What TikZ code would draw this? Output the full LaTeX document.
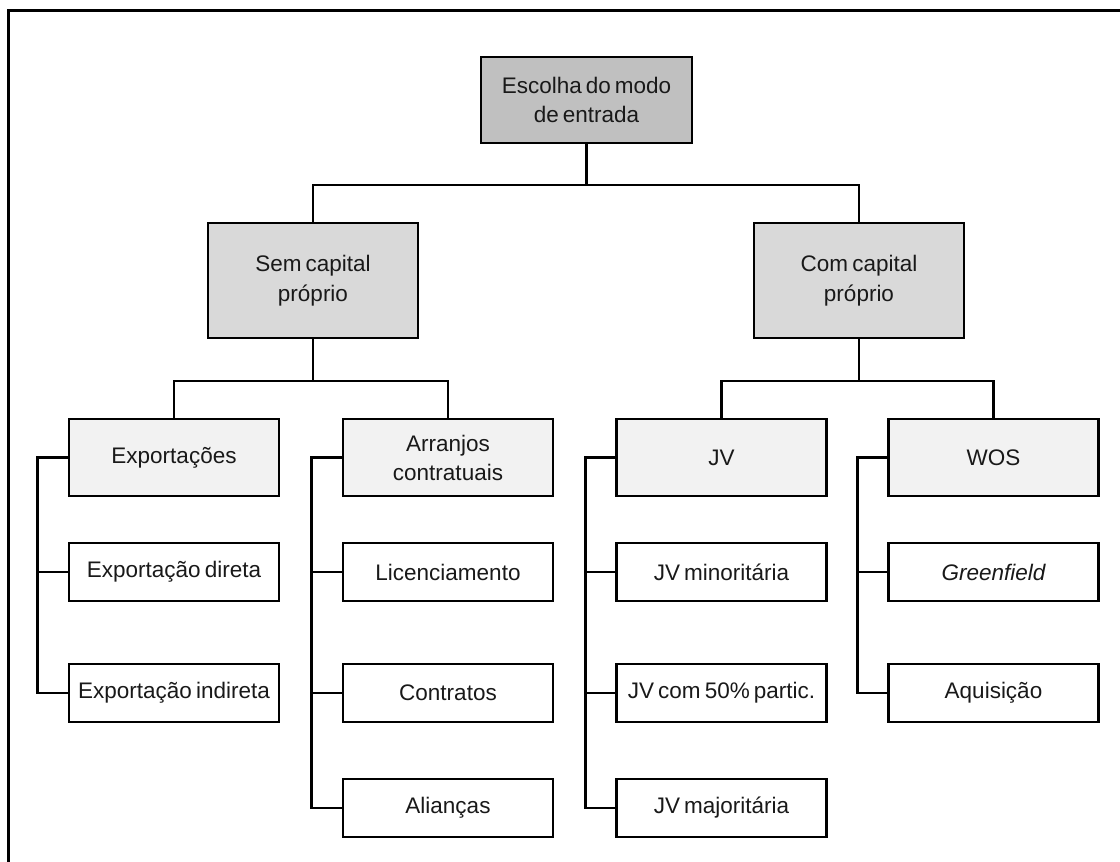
\documentclass[tikz,border=0pt]{standalone}
\usepackage{fontspec}
\setmainfont{Liberation Sans}[WordSpace=0.65]
\usetikzlibrary{calc}
\definecolor{rootfill}{HTML}{C0C0C0}
\definecolor{midfill}{HTML}{D9D9D9}
\definecolor{catfill}{HTML}{F2F2F2}
\begin{document}
\begin{tikzpicture}[x=1pt,y=-1pt,
  box/.style={draw=black,line width=2.6pt,rectangle,inner sep=0pt,align=center,
    font=\fontsize{22.5}{29}\selectfont,text=black!90},
  rootbox/.style={box,fill=rootfill,minimum width=211pt,minimum height=86pt},
  modebox/.style={box,fill=midfill,minimum width=210pt,minimum height=115pt,
    font=\fontsize{22.5}{30}\selectfont},
  catbox/.style={box,fill=catfill,minimum width=210pt,minimum height=77pt},
  leafbox/.style={box,fill=white,minimum width=210pt,minimum height=58pt},
  link/.style={draw=black,line width=2.6pt,line join=miter}]
\useasboundingbox (0,0) rectangle (1120,862);
% open frame: top and left edges only
\draw[line width=3pt] (1120,10) -- (8,10) -- (8,862);

% bus levels
\coordinate (busA) at (0,185);
\coordinate (busB) at (0,381);

% nodes
\node[rootbox] (root) at (586.5,100) {Escolha do modo\\de entrada};
\node[modebox] (sem) at (313,280.5) {Sem capital\\próprio};
\node[modebox] (com) at (859,280.5) {Com capital\\próprio};

\node[catbox] (exp) at (174,457.5) {Exportações};
\node[catbox] (arr) at (448,457.5) {Arranjos\\contratuais};
\node[catbox] (jv)  at (721.5,457.5) {JV};
\node[catbox] (wos) at (993.5,457.5) {WOS};

\node[leafbox] (dir) at (174,572) {Exportação direta};
\node[leafbox] (ind) at (174,693) {Exportação indireta};

\node[leafbox] (lic) at (448,572) {Licenciamento};
\node[leafbox] (con) at (448,693) {Contratos};
\node[leafbox] (ali) at (448,808) {Alianças};

\node[leafbox] (jmi) at (721.5,572) {JV minoritária};
\node[leafbox] (j50) at (721.5,693) {JV com 50\% partic.};
\node[leafbox] (jma) at (721.5,808) {JV majoritária};

\node[leafbox] (gre) at (993.5,572) {\itshape Greenfield};
\node[leafbox] (aqu) at (993.5,693) {Aquisição};

% tree connectors
\draw[link] (root.south) -- (root.south |- busA) -| (sem.north);
\draw[link] (root.south) -- (root.south |- busA) -| (com.north);
\draw[link] (sem.south) -- (sem.south |- busB) -| (exp.north);
\draw[link] (sem.south) -- (sem.south |- busB) -| (arr.north);
\draw[link] (com.south) -- (com.south |- busB) -| (jv.north);
\draw[link] (com.south) -- (com.south |- busB) -| (wos.north);

% side spines to the leaves
\foreach \p/\c in {exp/dir,exp/ind,arr/lic,arr/con,arr/ali,jv/jmi,jv/j50,jv/jma,wos/gre,wos/aqu}
  \draw[link] (\p.west) -- ++(-30,0) |- (\c.west);
\end{tikzpicture}
\end{document}
